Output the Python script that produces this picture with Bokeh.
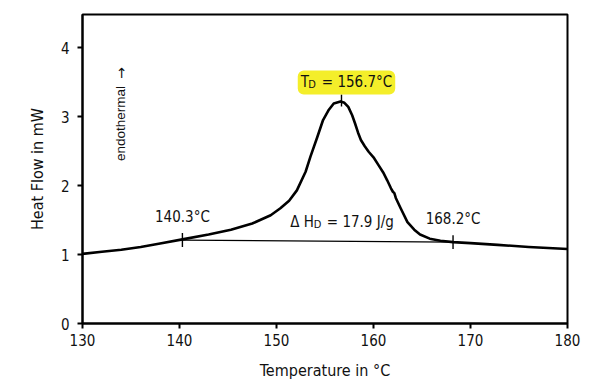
from bokeh.plotting import figure
from bokeh.models import Range1d, Label
from bokeh.embed import file_html
from bokeh.resources import INLINE
import math

# ---- data ----
temp = [130.0, 132.0, 134.0, 136.0, 138.0, 140.3, 143.0, 145.3, 147.5, 149.4,
        150.4, 151.3, 152.1, 153.0, 153.5, 154.2, 154.8, 155.4, 155.9, 156.6,
        157.0, 157.4, 157.8, 158.1, 158.4, 158.7, 159.1, 159.5, 160.0, 160.5, 161.0,
        161.4, 161.8, 162.0, 162.15, 162.3, 162.8, 163.5, 164.2, 164.8, 165.8,
        166.9, 168.2, 170.0, 172.8, 176.0, 180.0]
heat = [1.01, 1.04, 1.07, 1.11, 1.16, 1.22, 1.29, 1.36, 1.45, 1.57,
        1.67, 1.78, 1.93, 2.20, 2.42, 2.70, 2.95, 3.10, 3.19, 3.22,
        3.20, 3.14, 3.02, 2.90, 2.77, 2.66, 2.57, 2.49, 2.41, 2.30, 2.19,
        2.08, 1.96, 1.91, 1.89, 1.82, 1.67, 1.47, 1.36, 1.29, 1.23,
        1.20, 1.18, 1.165, 1.14, 1.11, 1.08]
x_ticks = [130, 140, 150, 160, 170, 180]
y_ticks = [0, 1, 2, 3, 4]
marker_T = [140.3, 168.2]
marker_HF = [1.21, 1.18]
marker_labels = ["140.3°C", "168.2°C"]
peak_T = 156.7
peak_HF = 3.22
peak_label = "156.7°C"
enthalpy_label = "17.9 J/g"

FONT = "'DejaVu Sans Condensed', 'DejaVu Sans', sans-serif"
FONT2 = "'Liberation Sans', Arial, sans-serif"
INK = "#111111"
NB = "\u00a0"

X0, X1, Y0, Y1 = 130, 180, 0, 4.48
p = figure(width=600, height=382, x_range=Range1d(X0, X1), y_range=Range1d(Y0, Y1),
           output_backend="svg", toolbar_location=None,
           min_border_left=82, min_border_right=33, min_border_top=14, min_border_bottom=58)
PX = (X1 - X0) / 485.0
PY = (Y1 - Y0) / 310.0

p.grid.visible = False
p.outline_line_color = "black"
p.outline_line_width = 2
p.outline_line_alpha = 1
p.background_fill_color = "white"
p.border_fill_color = "white"

for ax in (p.xaxis[0], p.yaxis[0]):
    ax.axis_line_width = 2
    ax.axis_line_color = "black"
    ax.major_tick_line_width = 2
    ax.major_tick_line_color = "black"
    ax.major_tick_in = 0
    ax.major_tick_out = 5
    ax.minor_tick_line_color = None
    ax.major_label_text_font = FONT
    ax.major_label_text_font_size = "15px"
    ax.major_label_text_color = INK
    ax.axis_label_text_font = FONT
    ax.axis_label_text_font_size = "16px"
    ax.axis_label_text_font_style = "normal"
    ax.axis_label_text_color = INK

p.xaxis.ticker = x_ticks
p.yaxis.ticker = y_ticks
p.xaxis.axis_label = "Temperature in °C"
p.yaxis.axis_label = "Heat Flow in mW"
p.xaxis.major_label_standoff = 5
p.xaxis.axis_label_standoff = 12
p.yaxis.major_label_standoff = 8
p.yaxis.axis_label_standoff = 11

# baseline between onset and end
p.line(marker_T, marker_HF, line_color="black", line_width=1.2)
# DSC curve
p.line(temp, heat, line_color="black", line_width=2.6, line_join="round")

# marker ticks
tick_half = 7 * PY
p.segment(x0=marker_T + [peak_T], x1=marker_T + [peak_T],
          y0=[v - tick_half for v in marker_HF] + [peak_HF - 5 * PY],
          y1=[v + tick_half for v in marker_HF] + [peak_HF + 7 * PY],
          line_color="black", line_width=1.4)

# marker temperature labels
for t, hf, lab in zip(marker_T, marker_HF, marker_labels):
    p.add_layout(Label(x=t, y=hf + 23 * PY, text=lab, text_align="center",
                       text_baseline="middle", text_font=FONT, text_font_size="15px",
                       text_color=INK))

# peak label with yellow highlight
p.add_layout(Label(x=peak_T + 5 * PX, y=peak_HF + 19 * PY, text="T" + NB * 3 + "= " + peak_label,
                   text_align="center", text_baseline="middle", text_font=FONT,
                   text_font_size="15px", text_color=INK,
                   background_fill_color="#f4ee2a", padding=3, border_radius=6))
p.add_layout(Label(x=peak_T - 29.5 * PX, y=peak_HF + 17 * PY, text="D",
                   text_align="center", text_baseline="middle", text_font=FONT,
                   text_font_size="11px", text_color=INK))

# enthalpy label
p.add_layout(Label(x=peak_T - 0.2 + 2.5 * PX, y=peak_HF - 120.5 * PY,
                   text="Δ" + NB + "H" + NB * 3 + "= " + enthalpy_label,
                   text_align="center", text_baseline="middle", text_font=FONT,
                   text_font_size="15px", text_color=INK))
p.add_layout(Label(x=peak_T - 24 * PX, y=peak_HF - 123.5 * PY, text="D",
                   text_align="center", text_baseline="middle", text_font=FONT,
                   text_font_size="11px", text_color=INK))

# endothermal direction
p.add_layout(Label(x=X0 + 38 * PX, y=Y0 + 163 * PY, text="endothermal", angle=math.pi / 2,
                   text_align="left", text_baseline="middle", text_font=FONT2,
                   text_font_size="13.5px", text_color=INK))
p.add_layout(Label(x=X0 + 38 * PX, y=Y0 + 251.5 * PY, text="→", angle=math.pi / 2,
                   text_align="center", text_baseline="middle",
                   text_font="'DejaVu Sans', sans-serif",
                   text_font_size="14px", text_color=INK))

open("out.html", "w").write(file_html(p, INLINE))
